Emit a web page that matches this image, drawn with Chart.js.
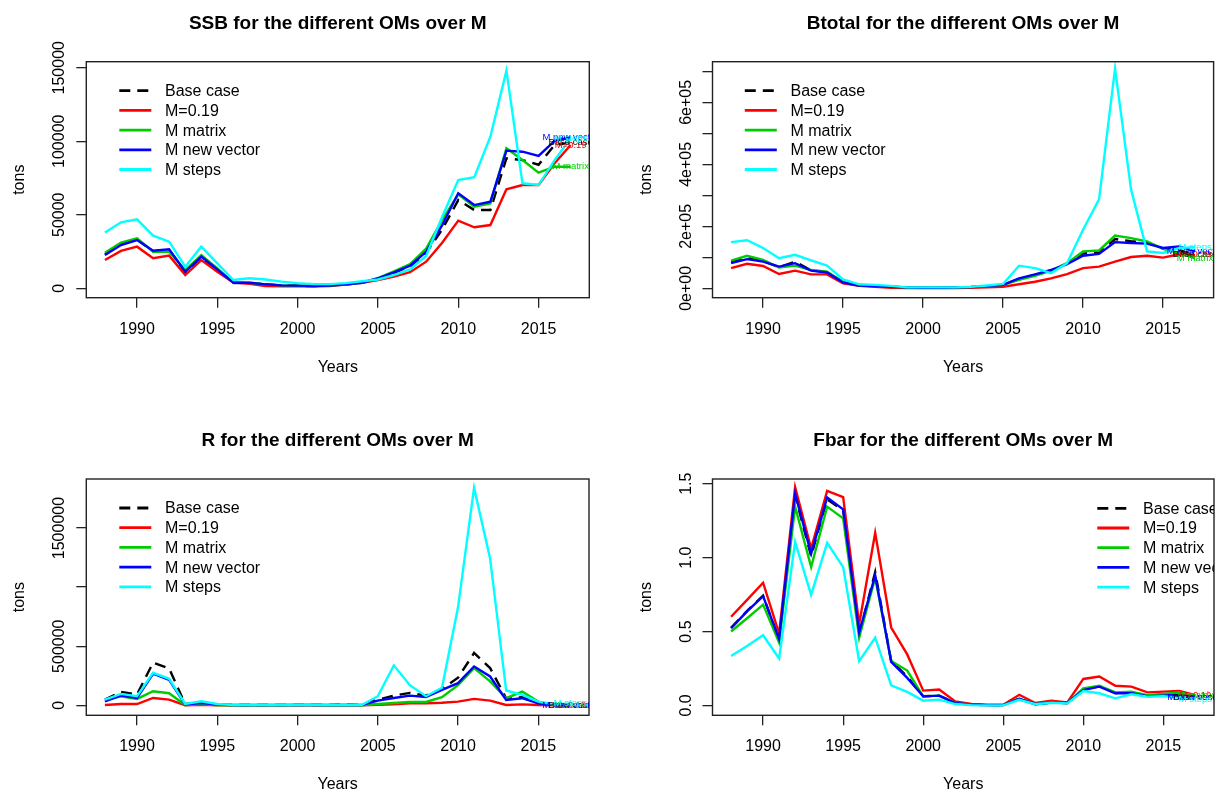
<!DOCTYPE html>
<html>
<head>
<meta charset="utf-8">
<title>OMs over M</title>
<script src="https://cdn.jsdelivr.net/npm/chart.js@4.4.0/dist/chart.umd.min.js"></script>
<style>
    body { margin: 0; background: #fff; }
    .panel { position: absolute; width: 609px; height: 398px; }
</style>
</head>
<body>
<div class="panel" style="left:0;top:0"><canvas id="ssbChart"></canvas></div>
<div class="panel" style="left:609px;top:0"><canvas id="btotalChart"></canvas></div>
<div class="panel" style="left:0;top:398px"><canvas id="recChart"></canvas></div>
<div class="panel" style="left:609px;top:398px"><canvas id="fbarChart"></canvas></div>
<script>
const FONT = "'Liberation Sans', Arial, sans-serif";

// categories
const years = [1988, 1989, 1990, 1991, 1992, 1993, 1994, 1995, 1996, 1997,
               1998, 1999, 2000, 2001, 2002, 2003, 2004, 2005, 2006, 2007,
               2008, 2009, 2010, 2011, 2012, 2013, 2014, 2015, 2016, 2017];
const seriesNames = ['Base case', 'M=0.19', 'M matrix', 'M new vector', 'M steps'];
const seriesColors = ['#000000', '#FF0000', '#00CD00', '#0000FF', '#00FFFF'];
const xTickValues = [1990, 1995, 2000, 2005, 2010, 2015];

// SSB (tons)
const ssbBase      = [23000, 30000, 33300, 25200, 25800, 11000, 21000, 12500, 3600, 3700, 2600, 1900, 1700, 1500, 1700, 2600, 3700, 6500, 10500, 15000, 24000, 40000, 60000, 53200, 53200, 88400, 87200, 84000, 97400, 99000];
const ssbM019      = [19200, 25400, 28300, 20400, 22200, 9000, 19200, 11300, 3800, 3000, 1600, 1400, 1400, 1400, 1600, 2500, 3800, 5600, 7900, 10900, 18100, 31000, 46000, 41500, 43000, 67300, 70200, 70200, 85000, 97400];
const ssbMatrix    = [24200, 31000, 34000, 24900, 24900, 12400, 22600, 13600, 3800, 3800, 2700, 2000, 1800, 1600, 1800, 2700, 3900, 7000, 11500, 16500, 27000, 46500, 64000, 55500, 57700, 95200, 87200, 78600, 82700, 82700];
const ssbNewVector = [22600, 29400, 32800, 25600, 26500, 11300, 21500, 12900, 3800, 3800, 2700, 2000, 1800, 1600, 1800, 2700, 3800, 6800, 10900, 15400, 24900, 43000, 64600, 56600, 58900, 93600, 92900, 90000, 100200, 102700];
const ssbSteps     = [38000, 44900, 46900, 35800, 31700, 14700, 28300, 17000, 5600, 6800, 6000, 4500, 3500, 2800, 2800, 3500, 4800, 6000, 9000, 12900, 22000, 48700, 73600, 75500, 103100, 148000, 71400, 70200, 87200, 102000];
const ssbTickValues = [0, 50000, 100000, 150000];
const ssbTickLabels = ['0', '50000', '100000', '150000'];

// Btotal (tons)
const btBase      = [85000, 98000, 88000, 68000, 86000, 58000, 52000, 20000, 9000, 7000, 5000, 3000, 2000, 2000, 3000, 4000, 7000, 11000, 30000, 43000, 58000, 80000, 112000, 116000, 159000, 152000, 147000, 128000, 122000, 110000];
const btM019      = [65000, 79000, 72000, 46000, 57000, 45000, 45000, 16000, 8000, 5000, 2000, 1000, 1000, 1000, 1000, 2000, 3000, 5000, 13000, 21000, 32000, 46000, 65000, 70000, 86000, 101000, 105000, 99000, 110000, 108000];
const btMatrix    = [89000, 105000, 92000, 67000, 73000, 59000, 54000, 21000, 10000, 8000, 5000, 3000, 3000, 3000, 3000, 4000, 7000, 11000, 27000, 40000, 57000, 81000, 119000, 122000, 170000, 162000, 151000, 127000, 114000, 97000];
const btNewVector = [81000, 94000, 86000, 70000, 81000, 57000, 51000, 19000, 9000, 7000, 5000, 3000, 2000, 2000, 3000, 4000, 7000, 11000, 32000, 45000, 59000, 78000, 105000, 111000, 149000, 146000, 144000, 130000, 135000, 119000];
const btSteps     = [149000, 155000, 130000, 97000, 108000, 90000, 73000, 29000, 13000, 11000, 8000, 3000, 3000, 3000, 3000, 5000, 9000, 14000, 73000, 65000, 49000, 81000, 189000, 287000, 709000, 319000, 119000, 114000, 130000, 133000];
const btTickValues = [0, 100000, 200000, 300000, 400000, 500000, 600000, 700000];
const btTickLabels = ['0e+00', '', '2e+05', '', '4e+05', '', '6e+05', ''];

// R (recruitment)
const recBase      = [48000, 114000, 91000, 361000, 312000, 11000, 20000, 6000, 2000, 2000, 2000, 2000, 3000, 3000, 2000, 6000, 2000, 48000, 82000, 105000, 82000, 139000, 233000, 443000, 315000, 60000, 68000, 17000, 2000, 1000];
const recM019      = [3000, 11000, 11000, 62000, 48000, 1000, 5000, 1000, 500, 500, 500, 500, 1000, 1000, 500, 1000, 500, 5000, 8000, 17000, 17000, 22000, 31000, 54000, 40000, 3000, 8000, 2000, 500, 200];
const recMatrix    = [48000, 77000, 54000, 119000, 102000, 2000, 11000, 2000, 1000, 1000, 1000, 1000, 2000, 2000, 1000, 3000, 1000, 11000, 20000, 28000, 28000, 68000, 170000, 315000, 202000, 60000, 116000, 31000, 3000, 1000];
const recNewVector = [34000, 82000, 62000, 267000, 216000, 6000, 20000, 6000, 2000, 2000, 2000, 2000, 3000, 3000, 2000, 4000, 2000, 40000, 62000, 82000, 71000, 131000, 187000, 329000, 244000, 45000, 60000, 17000, 2000, 1000];
const recSteps     = [48000, 96500, 76700, 275000, 224000, 11000, 34000, 11000, 2000, 2000, 2000, 2000, 3000, 3000, 2000, 4000, 2000, 77000, 338000, 170000, 77000, 148000, 829000, 1840000, 1241000, 125000, 88000, 31000, 6000, 15000];
const recTickValues = [0, 500000, 1000000, 1500000];
const recTickLabels = ['0', '500000', '', '1500000'];

// Fbar
const fBase      = [0.525, 0.640, 0.742, 0.445, 1.420, 1.010, 1.395, 1.320, 0.480, 0.902, 0.300, 0.195, 0.062, 0.066, 0.016, 0.005, 0.002, 0.002, 0.046, 0.008, 0.020, 0.016, 0.108, 0.130, 0.084, 0.083, 0.064, 0.068, 0.072, 0.055];
const fM019      = [0.600, 0.714, 0.830, 0.486, 1.477, 1.061, 1.452, 1.409, 0.550, 1.168, 0.527, 0.345, 0.100, 0.107, 0.027, 0.010, 0.005, 0.005, 0.072, 0.016, 0.032, 0.020, 0.179, 0.195, 0.133, 0.127, 0.088, 0.093, 0.097, 0.070];
const fMatrix    = [0.500, 0.590, 0.682, 0.425, 1.345, 0.936, 1.345, 1.266, 0.459, 0.864, 0.300, 0.236, 0.061, 0.066, 0.016, 0.005, 0.002, 0.002, 0.045, 0.008, 0.020, 0.016, 0.115, 0.133, 0.088, 0.093, 0.070, 0.077, 0.088, 0.066];
const fNewVector = [0.523, 0.636, 0.739, 0.448, 1.432, 1.027, 1.407, 1.327, 0.493, 0.880, 0.295, 0.186, 0.061, 0.066, 0.016, 0.005, 0.002, 0.002, 0.045, 0.008, 0.020, 0.016, 0.104, 0.127, 0.082, 0.082, 0.063, 0.066, 0.070, 0.052];
const fSteps     = [0.334, 0.402, 0.475, 0.318, 1.107, 0.748, 1.100, 0.936, 0.300, 0.459, 0.136, 0.091, 0.032, 0.039, 0.009, 0.002, 0.000, 0.000, 0.038, 0.008, 0.018, 0.014, 0.097, 0.082, 0.048, 0.075, 0.059, 0.063, 0.052, 0.043];
const fTickValues = [0, 0.5, 1, 1.5];
const fTickLabels = ['0.0', '0.5', '1.0', '1.5'];

// R-like decorations: box, title, rotated y labels, in-plot legend, end labels
const rStyle = {
    id: 'rStyle',
    afterDraw(chart, args, opts) {
        const ctx = chart.ctx;
        const a = chart.chartArea;
        const xs = chart.scales.x;
        const ys = chart.scales.y;
        const cx = (a.left + a.right) / 2;

        ctx.save();
        ctx.strokeStyle = '#222';
        ctx.lineWidth = 1.4;
        ctx.strokeRect(a.left, a.top, a.right - a.left, a.bottom - a.top);

        ctx.fillStyle = '#000';
        ctx.textAlign = 'center';
        ctx.textBaseline = 'alphabetic';
        ctx.font = 'bold 19px ' + FONT;
        ctx.fillText(opts.title, cx, a.top - 32.7);

        ctx.font = '16px ' + FONT;
        ctx.fillText('Years', cx, a.bottom + 73.8);

        opts.yTicks.forEach((v, i) => {
            const label = opts.yLabels[i];
            if (!label) return;
            ctx.save();
            ctx.translate(a.left - 22, ys.getPixelForValue(v));
            ctx.rotate(-Math.PI / 2);
            ctx.fillText(label, 0, 0);
            ctx.restore();
        });

        ctx.save();
        ctx.translate(a.left - 62, (a.top + a.bottom) / 2);
        ctx.rotate(-Math.PI / 2);
        ctx.fillText('tons', 0, 0);
        ctx.restore();

        // everything below stays inside the plot box
        ctx.save();
        ctx.beginPath();
        ctx.rect(a.left, a.top, a.right - a.left, a.bottom - a.top);
        ctx.clip();

        const lx = a.left + opts.legend.dx;
        let ly = a.top + opts.legend.dy;
        ctx.textAlign = 'left';
        ctx.textBaseline = 'middle';
        ctx.font = '16px ' + FONT;
        chart.data.datasets.forEach(ds => {
            ctx.strokeStyle = ds.borderColor;
            ctx.lineWidth = 2.8;
            ctx.setLineDash(ds.borderDash || []);
            ctx.beginPath();
            ctx.moveTo(lx, ly);
            ctx.lineTo(lx + 32, ly);
            ctx.stroke();
            ctx.setLineDash([]);
            ctx.fillStyle = '#000';
            ctx.fillText(ds.label, lx + 45.7, ly + 1);
            ly += 19.7;
        });

        // series names written at the last year, as text() does in R
        ctx.textAlign = 'center';
        ctx.font = '9.5px ' + FONT;
        const lastYear = years[years.length - 1];
        chart.data.datasets.forEach(ds => {
            const last = ds.data[ds.data.length - 1].y;
            ctx.fillStyle = ds.borderColor;
            ctx.fillText(ds.label, xs.getPixelForValue(lastYear), ys.getPixelForValue(last));
        });
        ctx.restore();
        ctx.restore();
    }
};

function makeChart(canvasId, panel) {
    const ctx = document.getElementById(canvasId);
    if (!ctx) return null;
    const box = panel.box;

    const datasets = panel.series.map((vals, i) => ({
        label: seriesNames[i],
        data: years.map((yr, j) => ({ x: yr, y: vals[j] })),
        borderColor: seriesColors[i],
        borderWidth: 2.4,
        borderDash: i === 0 ? [11, 7] : undefined,
        pointRadius: 0,
        tension: 0,
        fill: false,
        clip: 0,
        order: seriesNames.length - i
    }));

    return new Chart(ctx, {
        type: 'line',
        data: { datasets: datasets },
        options: {
            responsive: true,
            maintainAspectRatio: false,
            animation: false,
            layout: {
                padding: { left: 0, top: box.top, right: 609 - box.right, bottom: 0 }
            },
            plugins: {
                legend: { display: false },
                title: { display: false },
                tooltip: { enabled: false },
                rStyle: {
                    title: panel.title,
                    yTicks: panel.yTicks,
                    yLabels: panel.yLabels,
                    legend: panel.legend
                }
            },
            scales: {
                x: {
                    type: 'linear',
                    position: 'bottom',
                    min: 1986.84,
                    max: 2018.16,
                    afterBuildTicks: s => { s.ticks = xTickValues.map(v => ({ value: v })); },
                    afterFit: s => { s.height = 398 - box.bottom; },
                    border: { display: false },
                    grid: { drawOnChartArea: false, drawTicks: true, tickLength: 10, color: '#222', lineWidth: 1.3 },
                    ticks: {
                        color: '#000',
                        font: { size: 16, family: FONT },
                        padding: 12,
                        maxRotation: 0,
                        autoSkip: false,
                        callback: v => String(v)
                    }
                },
                y: {
                    type: 'linear',
                    position: 'left',
                    min: panel.yMin,
                    max: panel.yMax,
                    afterBuildTicks: s => { s.ticks = panel.yTicks.map(v => ({ value: v })); },
                    afterFit: s => { s.width = box.left; },
                    border: { display: false },
                    grid: { drawOnChartArea: false, drawTicks: true, tickLength: 10, color: '#222', lineWidth: 1.3 },
                    ticks: { display: false }
                }
            }
        },
        plugins: [rStyle]
    });
}

document.addEventListener('DOMContentLoaded', function() {
    Chart.defaults.font.family = FONT;

    makeChart('ssbChart', {
        title: 'SSB for the different OMs over M',
        series: [ssbBase, ssbM019, ssbMatrix, ssbNewVector, ssbSteps],
        yMin: -6400, yMax: 154100,
        yTicks: ssbTickValues, yLabels: ssbTickLabels,
        box: { left: 86.3, top: 61.7, right: 589.3, bottom: 297.7 },
        legend: { dx: 33, dy: 29 }
    });

    makeChart('btotalChart', {
        title: 'Btotal for the different OMs over M',
        series: [btBase, btM019, btMatrix, btNewVector, btSteps],
        yMin: -30300, yMax: 731000,
        yTicks: btTickValues, yLabels: btTickLabels,
        box: { left: 103.5, top: 61.7, right: 604.6, bottom: 297.7 },
        legend: { dx: 32.3, dy: 29 }
    });

    makeChart('recChart', {
        title: 'R for the different OMs over M',
        series: [recBase, recM019, recMatrix, recNewVector, recSteps],
        yMin: -84600, yMax: 1915000,
        yTicks: recTickValues, yLabels: recTickLabels,
        box: { left: 86.3, top: 81, right: 589.0, bottom: 317.3 },
        legend: { dx: 33, dy: 29 }
    });

    makeChart('fbarChart', {
        title: 'Fbar for the different OMs over M',
        series: [fBase, fM019, fMatrix, fNewVector, fSteps],
        yMin: -0.067, yMax: 1.532,
        yTicks: fTickValues, yLabels: fTickLabels,
        box: { left: 103.5, top: 81, right: 605, bottom: 317.3 },
        legend: { dx: 384.8, dy: 29.3 }
    });
});
</script>
</body>
</html>
